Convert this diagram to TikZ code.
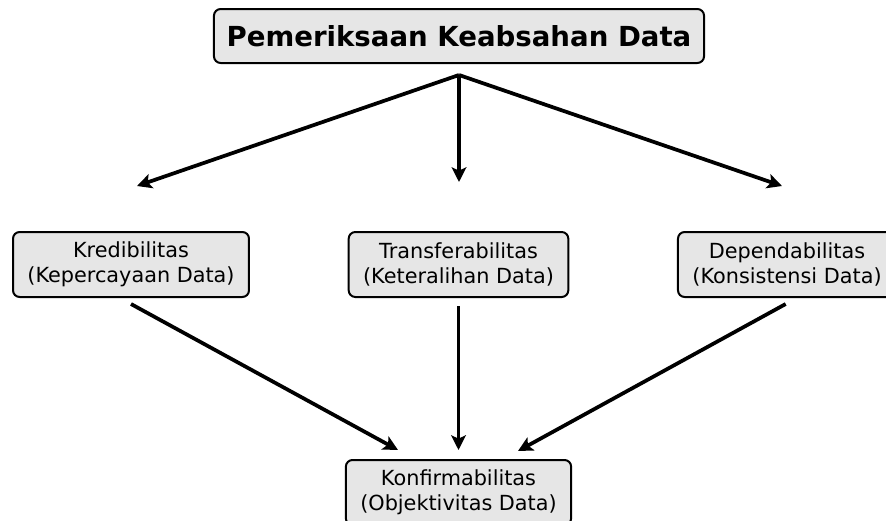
\documentclass[tikz,border=0pt]{standalone}
\usepackage{fontspec}
\setmainfont{DejaVu Sans}
\usetikzlibrary{arrows.meta,positioning}
\definecolor{boxGray}{RGB}{230,230,230}

\begin{document}
\begin{tikzpicture}[x=0.75pt,y=-0.75pt,
  box/.style={draw,line width=1.5pt,rounded corners=5pt,fill=boxGray,align=center,font=\fontsize{15.6}{18.75}\selectfont,inner xsep=10.8pt,minimum height=48.75pt},
  title/.style={box,font=\bfseries\fontsize{20.7}{24}\selectfont,inner xsep=9.5pt,minimum height=40.5pt},
  arrow/.style={-{Stealth[length=11pt,width=11pt,inset=2.5pt]},line width=2.8pt}
]
\useasboundingbox (0,0) rectangle (886,521);
\clip (0,0) rectangle (886,521);
\node[title] (top) at (459,36) {Pemeriksaan Keabsahan Data};
\node[box] (kred) at (131,264.5) {Kredibilitas\\(Kepercayaan Data)};
\node[box] (trans) at (458.5,264.5) {Transferabilitas\\(Keteralihan Data)};
\node[box] (dep) at (787,264.5) {Dependabilitas\\(Konsistensi Data)};
\node[box] (konf) at (458.5,492.5) {Konfirmabilitas\\(Objektivitas Data)};
% free ends of the upper arrows
\coordinate (split) at (459,75);
\coordinate (kredIn) at (137,186);
\coordinate (transIn) at (459,182);
\coordinate (depIn) at (782,186);
% heads of the lower arrows
\coordinate (konfL) at (398,450);
\coordinate (konfM) at (458.5,450);
\coordinate (konfR) at (518,451);
\draw[arrow] (split) -- (kredIn);
\draw[arrow] (split) -- (transIn);
\draw[arrow] (split) -- (depIn);
\draw[arrow] ([yshift=-4.5pt]kred.south) -- (konfL);
\draw[arrow] ([yshift=-6pt]trans.south) -- (konfM);
\draw[arrow] ([xshift=-1pt,yshift=-4.5pt]dep.south) -- (konfR);
\end{tikzpicture}
\end{document}
